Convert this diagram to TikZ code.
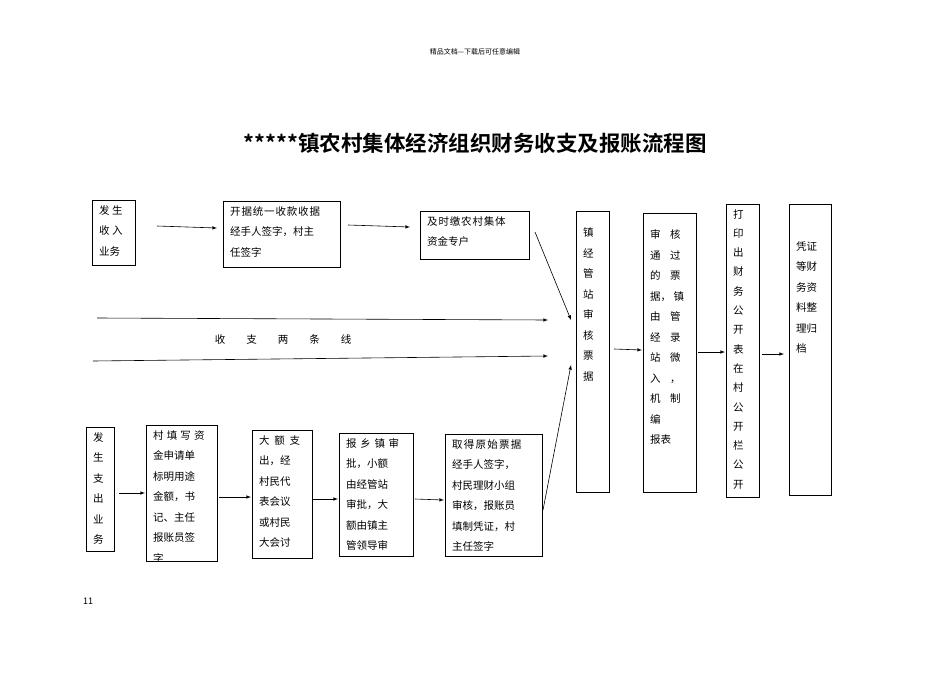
\documentclass[tikz,border=0pt]{standalone}
\usepackage{fontspec}
\setmainfont{Noto Sans CJK SC}
\newfontfamily\cjkb{Noto Sans CJK SC Bold}
\begin{document}
\begin{tikzpicture}[x=1pt,y=-1pt,
  bt/.style={anchor=north west,inner sep=0pt,align=left,font=\fontsize{10.5}{20.5}\selectfont},
  ar/.style={-latex,line width=0.6pt}]
\useasboundingbox (0,0) rectangle (950,672);
\newcommand\bx[6]{%
  \coordinate (#1-nw) at (#2,#3); \coordinate (#1-se) at (#4,#5);
  \begin{scope}\clip (#2,#3) rectangle (#4,#5);
  \node[bt] (#1) at (#2+7,#3+5) {#6};\end{scope}
  \draw[line width=0.6pt] (#2,#3) rectangle (#4,#5);}
\newcommand\lsp[1]{\addfontfeature{LetterSpace=#1}}
\node[font=\fontsize{7}{8}\selectfont] (hdr) at (475,52) {精品文档---下载后可任意编辑};
\node[font=\cjkb\fontsize{21.5}{24}\selectfont] (title) at (475,143) {*****镇农村集体经济组织财务收支及报账流程图};
\node[font=\fontsize{9}{10}\selectfont] (pg) at (88,601) {11};
\bx{A}{92}{200}{135}{265}{发\ 生\\收\ 入\\业务}
\bx{B}{223}{201}{340}{267}{\lsp{8}开据统一收款收据\\经手人签字，村主\\任签字}
\bx{C}{420}{211}{529}{259}{\lsp{8}及时缴农村集体\\资金专户}
\bx{D}{576}{211}{609}{492}{\\镇\\经\\管\\站\\审\\核\\票\\据}
\bx{E}{643}{213}{696}{492}{\\审\ \ \ \ 核\\通\ \ \ \ 过\\的\ \ \ \ 票\\据，\ 镇\\由\ \ \ \ 管\\经\ \ \ \ 录\\站\ \ \ \ 微\\入\ \ \ \ ，\\机\ \ \ \ 制\\编\\报表}
\begin{scope}[bt/.append style={font=\fontsize{10.5}{19.3}\selectfont}]
\bx{F}{726}{204}{759}{497}{打\\印\\出\\财\\务\\公\\开\\表\\在\\村\\公\\开\\栏\\公\\开}
\end{scope}
\bx{G}{789}{204}{831}{495}{\\\\凭证\\等财\\务资\\料整\\理归\\档}
\bx{H}{86}{427}{114}{551}{发\\生\\支\\出\\业\\务}
\bx{I}{146}{425}{217}{561}{\lsp{30}村填写资\\金申请单\\标明用途\\金额，书\\记、主任\\报账员签\\字}
\bx{J}{252}{430}{312}{558}{\lsp{45}大额支\\出，经\\村民代\\表会议\\或村民\\大会讨\\论通过}
\bx{K}{339}{433}{413}{556}{\lsp{35}报乡镇审\\批，小额\\由经管站\\审批，大\\额由镇主\\管领导审}
\bx{L}{445}{434}{542}{556}{\lsp{12}取得原始票据\\经手人签字，\\村民理财小组\\审核，报账员\\填制凭证，村\\主任签字}
\node[font=\fontsize{10.5}{12}\selectfont] (lbl) at (283,339) {收\qquad 支\qquad 两\qquad 条\qquad 线};
\coordinate (l1a) at (97,318); \coordinate (l1b) at (548,320);
\coordinate (l2a) at (93,361); \coordinate (l2b) at (548,356);
\draw[ar] (l1a) -- (l1b);
\draw[ar] (l2a) -- (l2b);
\coordinate (a1) at (157,226); \coordinate (a2) at (217,228);
\draw[ar] (a1) -- (a2);
\coordinate (b1) at (348,225); \coordinate (b2) at (410,227);
\draw[ar] (b1) -- (b2);
\coordinate (c1) at (535,232); \coordinate (c2) at (571,320);
\draw[ar] (c1) -- (c2);
\coordinate (d1) at (543,510); \coordinate (d2) at (571,365);
\draw[ar] (d1) -- (d2);
\coordinate (h1) at (119,493); \coordinate (h2) at (145,493);
\draw[ar] (h1) -- (h2);
\coordinate (i1) at (219,497); \coordinate (i2) at (251,497);
\draw[ar] (i1) -- (i2);
\coordinate (j1) at (313,499); \coordinate (j2) at (338,499);
\draw[ar] (j1) -- (j2);
\coordinate (k1) at (415,499); \coordinate (k2) at (444,500);
\draw[ar] (k1) -- (k2);
\coordinate (e1) at (614,349); \coordinate (e2) at (642,350);
\draw[ar] (e1) -- (e2);
\coordinate (f1) at (698,352); \coordinate (f2) at (725,352);
\draw[ar] (f1) -- (f2);
\coordinate (g1) at (762,354); \coordinate (g2) at (784,354);
\draw[ar] (g1) -- (g2);
\end{tikzpicture}
\end{document}
